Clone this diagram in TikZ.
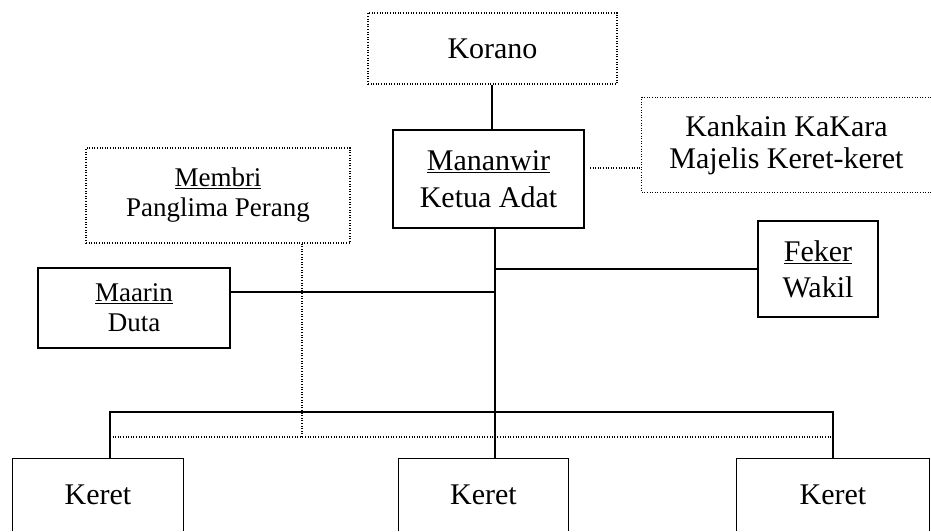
\documentclass[tikz,border=0pt]{standalone}
\usepackage{fontspec}
\setmainfont{Liberation Serif}
\usetikzlibrary{calc}

\tikzset{
  solidbox/.style={draw, line width=1.2pt, inner sep=0pt, align=center},
  dotbox/.style={draw, line width=1.1pt, dash pattern=on 1pt off 1.6pt, inner sep=0pt, align=center},
  openbox/.style={inner sep=0pt, align=center},
  link/.style={line width=1.2pt},
  dotlink/.style={line width=1.1pt, dash pattern=on 1pt off 1.6pt},
  bigtext/.style={font=\fontsize{30}{37}\selectfont},
  smalltext/.style={font=\fontsize{27}{30}\selectfont}
}

\begin{document}
\begin{tikzpicture}[x=1pt, y=-1pt]
    \useasboundingbox (0,0) rectangle (931,531);

    \node[dotbox, bigtext, minimum width=249pt, minimum height=71pt] (korano) at (492.5,48.5) {Korano};
    \node[solidbox, bigtext, minimum width=191pt, minimum height=98pt] (mananwir) at (488.5,179) {\underline{Mananwir}\\Ketua Adat};
    \node[openbox, bigtext, font=\fontsize{30}{32}\selectfont, minimum width=289pt, minimum height=95pt] (kankain) at (786.5,145) {Kankain KaKara\\Majelis Keret-keret};
    \node[dotbox, smalltext, minimum width=264pt, minimum height=95pt] (membri) at (218,195.5) {\underline{Membri}\\Panglima Perang};
    \node[solidbox, smalltext, minimum width=192pt, minimum height=80pt] (maarin) at (134,308) {\underline{Maarin}\\Duta};
    \node[solidbox, bigtext, font=\fontsize{30}{36}\selectfont, minimum width=120pt, minimum height=96pt] (feker) at (818,269) {\underline{Feker}\\Wakil};
    \node[openbox, bigtext, minimum width=170pt, minimum height=72pt] (keret1) at (98,495) {Keret};
    \node[openbox, bigtext, minimum width=169pt, minimum height=72pt] (keret2) at (483.5,495) {Keret};
    \node[openbox, bigtext, minimum width=192pt, minimum height=72pt] (keret3) at (833,495) {Keret};

    \coordinate (hub) at (495,412);
    \coordinate (busL) at (110,412);
    \coordinate (dotL) at (110,437);
    \coordinate (drop) at (302,437);
    \coordinate (side) at (590,168);

    \draw[dotlink] (kankain.north east) -- (kankain.north west) -- (kankain.south west) -- (kankain.south east);
    \foreach \k in {keret1, keret2, keret3}
      \draw[link] (\k.south west) |- (\k.north east) -- (\k.south east);

    \draw[link] (korano.south -| 492,0) -- (mananwir.north -| 492,0);
    \draw[dotlink] (side) -- (side -| kankain.west);
    \draw[link] (mananwir.south -| hub) -- (keret2.north -| hub);
    \draw[link] (feker.west) -- (feker.west -| hub);
    \draw[link] ([yshift=16pt]maarin.east) -- ([yshift=16pt]maarin.east -| hub);
    \draw[link] (keret1.north -| busL) |- (keret3.north |- busL) -- (keret3.north);
    \draw[dotlink] (dotL) -- (dotL -| keret3.north);
    \draw[dotlink] (membri.south -| drop) -- (drop);
\end{tikzpicture}
\end{document}
